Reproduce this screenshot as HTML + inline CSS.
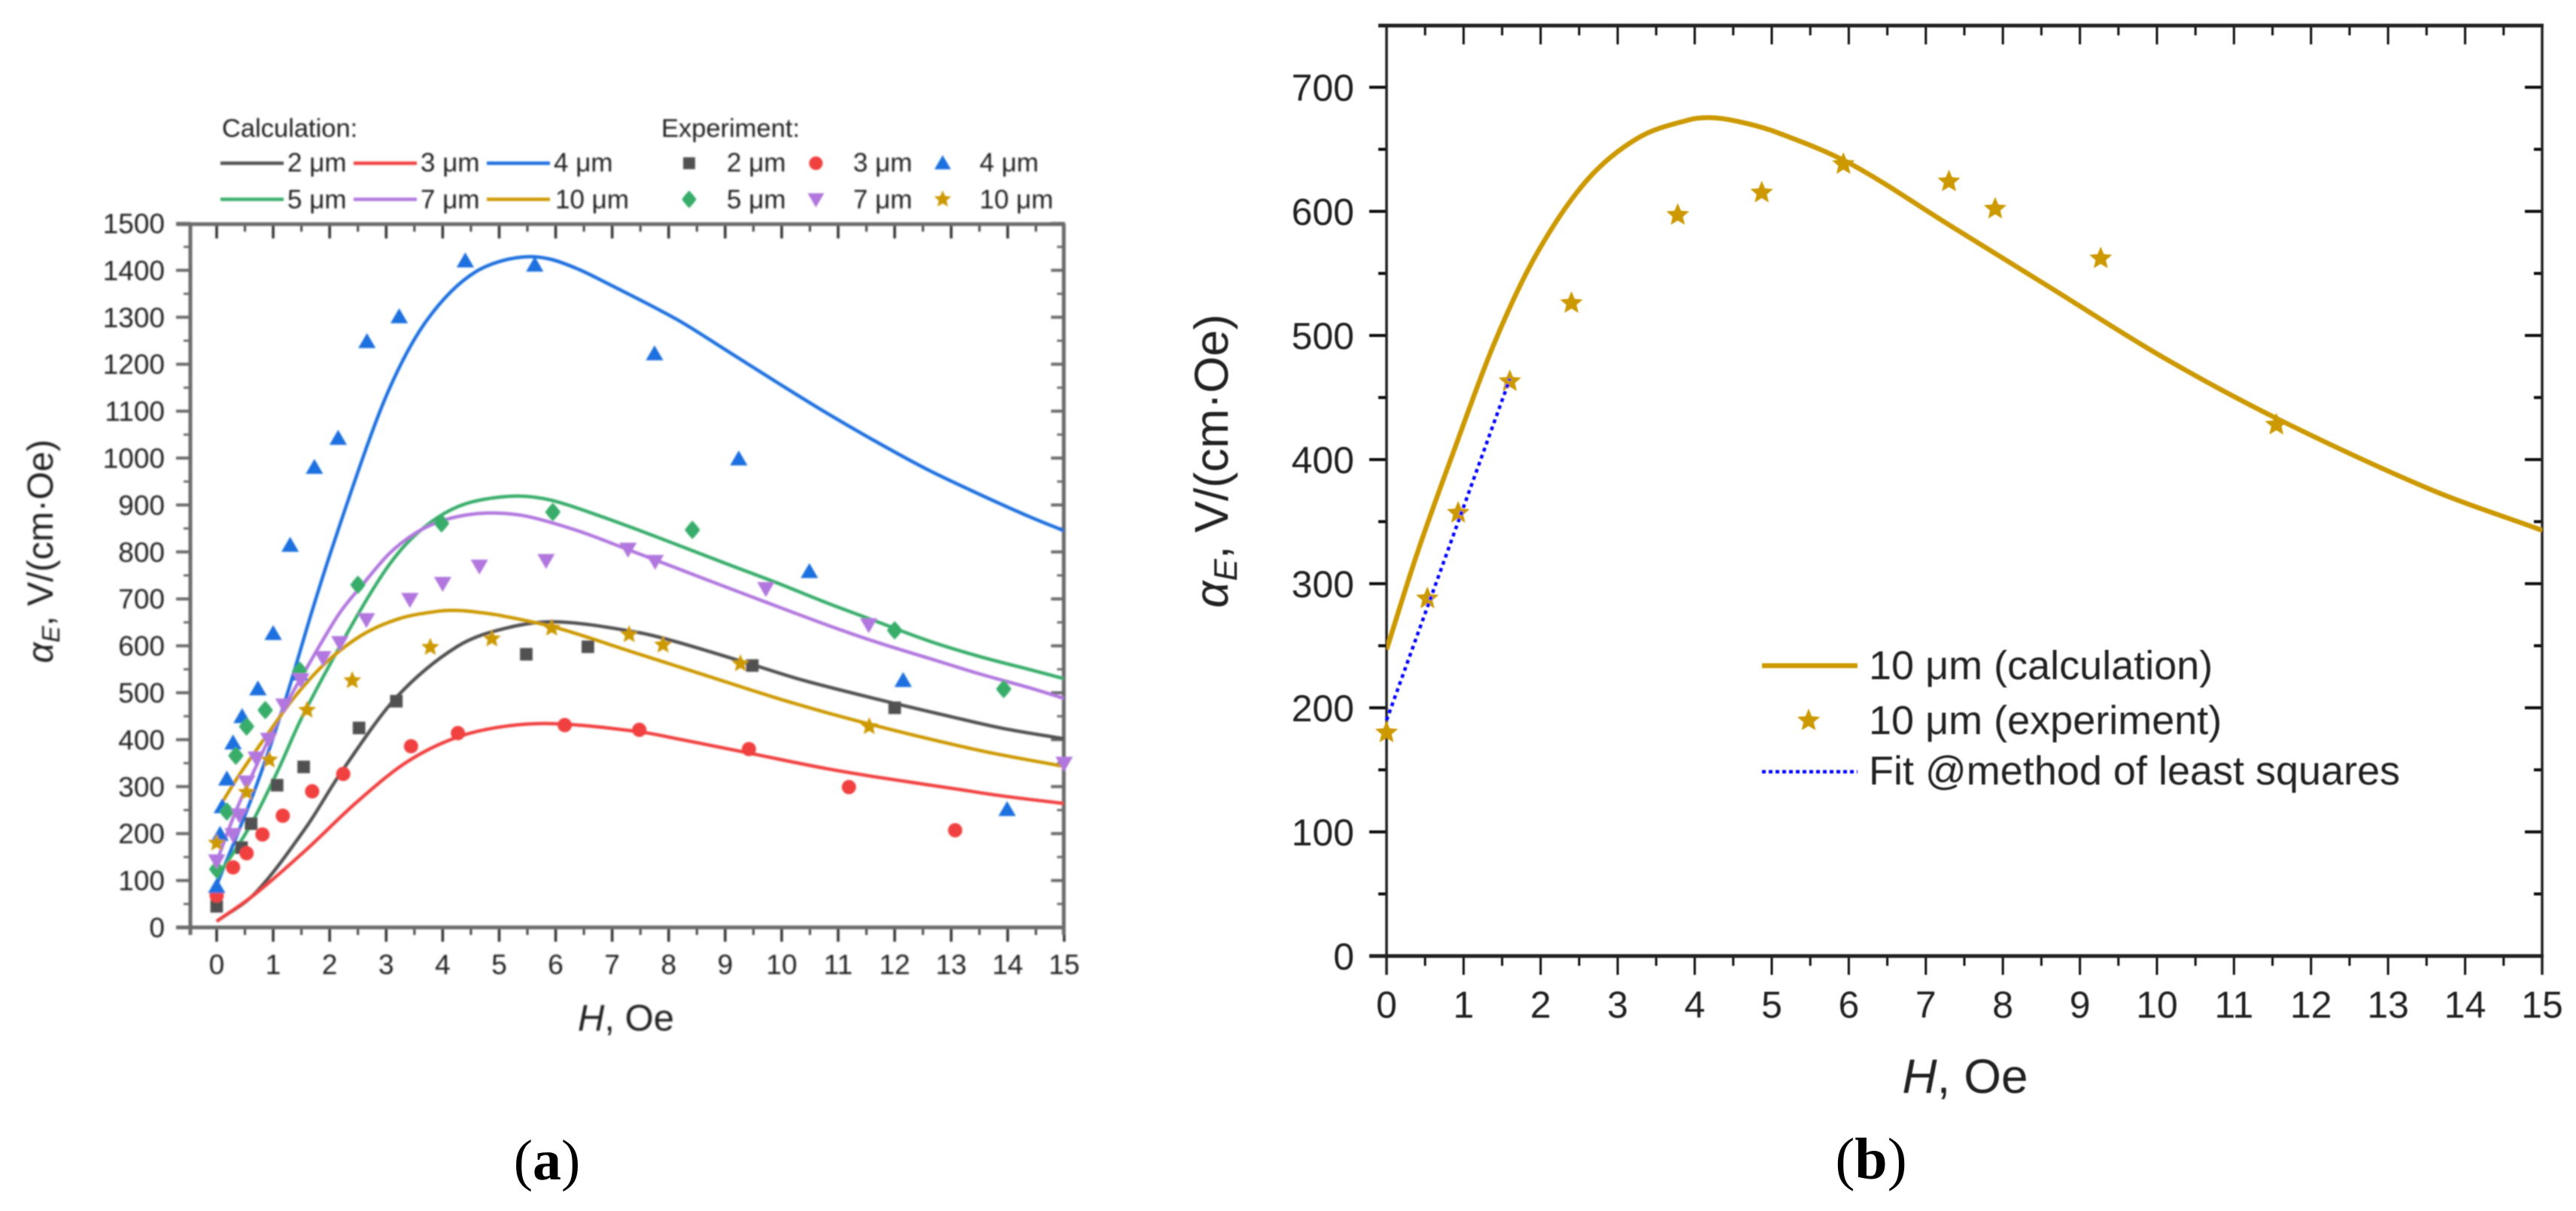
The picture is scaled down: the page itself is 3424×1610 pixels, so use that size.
<!DOCTYPE html>
<html lang="en">
<head>
<meta charset="utf-8">
<title>Magnetoelectric coefficient charts</title>
<style>
html,body{margin:0;padding:0;background:#fff;width:3424px;height:1610px;overflow:hidden}
svg{display:block}
text{font-family:"Liberation Sans",sans-serif;fill:#222}
.serif{font-family:"Liberation Serif",serif;fill:#000}
</style>
</head>
<body>
<svg id="figure" xmlns="http://www.w3.org/2000/svg" width="3424" height="1610" viewBox="0 0 3424 1610">
<defs>
<filter id="soft" x="-5%" y="-5%" width="110%" height="110%"><feGaussianBlur stdDeviation="1.1"/></filter>
<filter id="softer" x="-5%" y="-5%" width="110%" height="110%"><feGaussianBlur stdDeviation="0.7"/></filter>
<clipPath id="clip-a"><rect x="253" y="298" width="1161" height="935"/></clipPath>
<clipPath id="clip-b"><rect x="1843" y="34" width="1536" height="1237"/></clipPath>
</defs>
<g id="panel-a" filter="url(#soft)">
  <text x="295" y="182" font-size="34.5">Calculation:</text>
  <text x="879" y="182" font-size="34.5">Experiment:</text>
  <text transform="translate(70,733) rotate(-90)" text-anchor="middle" font-size="48"><tspan font-style="italic">α</tspan><tspan font-style="italic" font-size="33" dy="9">E</tspan><tspan dy="-9">,  V/(cm·Oe)</tspan></text>
  <text x="832" y="1370" text-anchor="middle" font-size="49"><tspan font-style="italic">H</tspan>, Oe</text>
</g>
<g id="panel-b" filter="url(#softer)">
  <text transform="translate(1632,613) rotate(-90)" text-anchor="middle" font-size="63"><tspan font-style="italic">α</tspan><tspan font-style="italic" font-size="44" dy="12">E</tspan><tspan dy="-12">,  V/(cm·Oe)</tspan></text>
  <text x="2612" y="1453" text-anchor="middle" font-size="64"><tspan font-style="italic">H</tspan>, Oe</text>
  <text x="2484" y="903" font-size="54">10 μm (calculation)</text>
  <text x="2484" y="976" font-size="54">10 μm (experiment)</text>
  <text x="2484" y="1043" font-size="54">Fit @method of least squares</text>
</g>
<text class="serif" x="727" y="1568" text-anchor="middle" font-size="76">(<tspan font-weight="bold" class="serif">a</tspan>)</text>
<text class="serif" x="2487" y="1567" text-anchor="middle" font-size="78">(<tspan font-weight="bold" class="serif">b</tspan>)</text>
</svg>
<script>
// ---- shared ticks ----
const hTicks = [0,1,2,3,4,5,6,7,8,9,10,11,12,13,14,15];
const aYTicks = [0,100,200,300,400,500,600,700,800,900,1000,1100,1200,1300,1400,1500];
const bYTicks = [0,100,200,300,400,500,600,700];

// ---- calculated curves ----
const calc2H = [0,0.69,1.58,2.2,3.18,4.25,5.13,6.04,7.48,8.15,9.48,10.37,11.7,13.03,13.92,15];
const calc2V = [13,74,213,330,490,598,638,651,628,608,560,527,486,448,424,402];
const calc3H = [0,0.69,1.58,2.47,3.36,4.25,5.13,6.02,7.48,8.15,9.48,10.81,11.7,13.03,13.92,15];
const calc3V = [13,72,165,266,352,405,429,434,417,402,370,338,320,296,280,264];
const calc4H = [0,0.69,1.22,1.67,2.02,2.65,3,3.36,3.71,4.15,4.6,5.04,5.53,5.93,6.37,6.82,8.15,9.04,9.92,10.81,11.7,12.59,13.48,14.37,15];
const calc4V = [90,298,486,667,800,1022,1132,1223,1292,1355,1398,1420,1429,1423,1404,1378,1295,1228,1161,1095,1033,975,924,876,845];
const calc5H = [0,0.6,1.09,1.49,2.2,2.82,3.27,3.71,4.15,4.6,5.31,5.93,6.82,7.7,9.04,9.92,10.81,11.7,12.59,13.48,14.37,15];
const calc5V = [105,218,336,443,603,731,806,856,890,909,919,910,875,836,774,734,691,651,611,578,550,530];
const calc7H = [0,0.33,0.69,1.13,1.58,2.16,2.6,3.05,3.49,3.93,4.38,4.87,5.49,6.37,7.26,8.15,9.04,9.92,10.81,11.7,12.59,13.48,14.37,15];
const calc7V = [140,245,341,453,550,667,733,796,838,864,878,883,876,846,806,765,724,684,644,607,574,541,511,488];
const calc10H = [0,0.4,0.85,1.4,1.95,2.6,3.26,3.91,4.2,4.56,5.05,6.03,7.33,8.63,10.09,11.56,13.51,15];
const calc10V = [247,325,403,494,566,625,659,673.5,675.5,672.5,664,638,588,538,482,433,377,343];

// ---- experimental points ----
const exp2H = [0,0.44,0.61,1.07,1.54,2.52,3.18,5.48,6.57,9.48,12];
const exp2V = [45,170,221,303,342,425,482,582,598,558,468];
const exp3H = [0,0.29,0.53,0.81,1.17,1.69,2.24,3.44,4.27,6.16,7.48,9.42,11.19,13.07];
const exp3V = [68,128,158,198,238,290,327,386,414,431,421,380,299,207];
const exp4H = [0,0.06,0.1,0.18,0.29,0.45,0.73,1,1.3,1.47,1.73,2.15,2.66,3.23,4.4,5.63,7.75,9.24,10.49,12.15,13.99];
const exp4V = [87,198,257,316,393,449,508,626,814,540,980,1042,1248,1301,1420,1411,1222,998,758,526,251];
const exp5H = [0,0.18,0.34,0.53,0.86,1.47,2.5,3.98,5.95,8.42,12,13.93];
const exp5V = [124,247,366,428,463,547,730,861,885,847,633,508];
const exp7H = [0,0.29,0.4,0.53,0.7,0.92,1.19,1.49,1.88,2.18,2.65,3.42,4,4.65,5.83,7.28,7.76,9.72,11.54,15];
const exp7V = [142,198,240,310,361,401,474,528,575,607,656,699,733,770,782,806,780,722,645,350];
const exp10H = [0,0.53,0.93,1.6,2.4,3.78,4.87,5.93,7.3,7.9,9.27,11.55];
const exp10V = [180,288,357,463,526,597,615,638,624,602,562,428];

// ---- least squares fit (panel b) ----
const fitH = [0,1.6];
const fitV = [190,465];

// ---- legend labels ----
const legendLabels = ['2 μm','3 μm','4 μm','5 μm','7 μm','10 μm'];
const seriesColors = ['#515151','#f14040','#1a6fdf','#37ad6b','#b177de','#cc9900'];
const seriesNames = ['2um','3um','4um','5um','7um','10um'];
const seriesShapes = ['square','circle','up','diamond','down','star'];

// ---- axis functions ----
function xA(h){ return 288 + 75.1*h; }
function yA(v){ return 1233 - 0.624*v; }
function xB(h){ return 1843 + 102.4*h; }
function yB(v){ return 1271 - 1.65*v; }

const NS = 'http://www.w3.org/2000/svg';
const panelA = document.getElementById('panel-a');
const panelB = document.getElementById('panel-b');

function mk(tag, attrs, parent){
  const e = document.createElementNS(NS, tag);
  for (const k in attrs) e.setAttribute(k, attrs[k]);
  parent.appendChild(e);
  return e;
}
// Hermite spline through the knots, with tangents from neighbouring knots.
function smooth(hs, vs, fx, fy){
  const p = hs.map((h,i)=>[fx(h), fy(vs[i])]);
  const n = p.length;
  const m = p.map((q,i)=>{
    const a = p[Math.max(i-1,0)], b = p[Math.min(i+1,n-1)];
    return (b[1]-a[1])/(b[0]-a[0]);
  });
  let d = 'M' + p[0][0].toFixed(1) + ' ' + p[0][1].toFixed(1);
  for (let i=0;i<n-1;i++){
    const dx = (p[i+1][0]-p[i][0])/3;
    d += 'C' + (p[i][0]+dx).toFixed(1)+' '+(p[i][1]+m[i]*dx).toFixed(1)+' '+
         (p[i+1][0]-dx).toFixed(1)+' '+(p[i+1][1]-m[i+1]*dx).toFixed(1)+' '+
         p[i+1][0].toFixed(1)+' '+p[i+1][1].toFixed(1);
  }
  return d;
}
function markerShape(shape, x, y, s, color, parent){
  let e;
  if (shape === 'square'){
    e = mk('rect',{x:x-s*0.88,y:y-s*0.88,width:s*1.76,height:s*1.76,fill:color},parent);
  } else if (shape === 'circle'){
    e = mk('circle',{cx:x,cy:y,r:s,fill:color},parent);
  } else if (shape === 'up'){
    e = mk('polygon',{points:(x)+','+(y-s*1.2)+' '+(x+s*1.22)+','+(y+s*0.9)+' '+(x-s*1.22)+','+(y+s*0.9),fill:color},parent);
  } else if (shape === 'down'){
    e = mk('polygon',{points:(x)+','+(y+s*1.2)+' '+(x+s*1.22)+','+(y-s*0.9)+' '+(x-s*1.22)+','+(y-s*0.9),fill:color},parent);
  } else if (shape === 'diamond'){
    const o = [[0,-1.3],[0.62,-0.62],[1.08,0],[0.62,0.62],[0,1.3],[-0.62,0.62],[-1.08,0],[-0.62,-0.62]];
    e = mk('polygon',{points:o.map(q=>(x+q[0]*s).toFixed(1)+','+(y+q[1]*s).toFixed(1)).join(' '),fill:color},parent);
  } else {
    const pts = [];
    for (let i=0;i<10;i++){
      const r = (i%2===0) ? s*1.33 : s*0.6;
      const t = -Math.PI/2 + i*Math.PI/5;
      pts.push((x+r*Math.cos(t)).toFixed(1)+','+(y+r*Math.sin(t)).toFixed(1));
    }
    e = mk('polygon',{points:pts.join(' '),fill:color},parent);
  }
  return e;
}

// ---- panel a: axes ----
const axisGreyA = '#6a6a6a';
for (const v of aYTicks){
  const t = mk('text',{x:219,y:yA(v)+13,'text-anchor':'end','font-size':37},panelA);
  
  
  t.textContent = v;
  const l = mk('line',{x1:234,x2:253,y1:yA(v),y2:yA(v),stroke:axisGreyA,'stroke-width':4},panelA);
  
  
  const r = mk('line',{x1:1397,x2:1414,y1:yA(v),y2:yA(v),stroke:axisGreyA,'stroke-width':4},panelA);
  
  
  if (v < 1500){
    const ml = mk('line',{x1:244,x2:253,y1:yA(v+50),y2:yA(v+50),stroke:axisGreyA,'stroke-width':3},panelA);
    
    
    const mr = mk('line',{x1:1405,x2:1414,y1:yA(v+50),y2:yA(v+50),stroke:axisGreyA,'stroke-width':3},panelA);
    
    
  }
}
for (const h of hTicks){
  const t = mk('text',{x:xA(h),y:1295,'text-anchor':'middle','font-size':37},panelA);
  
  
  t.textContent = h;
  const b = mk('line',{x1:xA(h),x2:xA(h),y1:1233,y2:1252,stroke:'#333','stroke-width':3.5},panelA);
  
  
  const u = mk('line',{x1:xA(h),x2:xA(h),y1:298,y2:317,stroke:'#333','stroke-width':3.5},panelA);
  
  
  if (h < 15){
    const mb = mk('line',{x1:xA(h+0.5),x2:xA(h+0.5),y1:1233,y2:1243,stroke:'#444','stroke-width':3},panelA);
    
    
    const mu = mk('line',{x1:xA(h+0.5),x2:xA(h+0.5),y1:298,y2:308,stroke:'#444','stroke-width':3},panelA);
    
    
  }
}
const frameA = mk('path',{d:'M253 1243V298M234 298H1416M234 1233H1416M1414 298V1243',stroke:axisGreyA,'stroke-width':5,fill:'none'},panelA);



// ---- panel a: curves ----
const curvesH = [calc2H,calc3H,calc4H,calc5H,calc7H,calc10H];
const curvesV = [calc2V,calc3V,calc4V,calc5V,calc7V,calc10V];
const pointsH = [exp2H,exp3H,exp4H,exp5H,exp7H,exp10H];
const pointsV = [exp2V,exp3V,exp4V,exp5V,exp7V,exp10V];
const clipA = mk('g',{'clip-path':'url(#clip-a)'},panelA);


curvesH.forEach((hs,i)=>{
  const c = mk('path',{d:smooth(hs,curvesV[i],xA,yA),fill:'none',stroke:seriesColors[i],'stroke-width':4.5,'stroke-linejoin':'round'},clipA);
  
  
});
pointsH.forEach((hs,i)=>{
  hs.forEach((h,j)=>{
    const m = markerShape(seriesShapes[i],xA(h),yA(pointsV[i][j]),9.5,seriesColors[i],panelA);
    
    
  });
});

// ---- panel a: legend ----
legendLabels.forEach((lab,i)=>{
  const col = i%3, row = Math.floor(i/3);
  const ly = row===0 ? 217 : 265;
  const by = row===0 ? 228 : 277;
  const lx = 293 + col*177;
  const sw = mk('line',{x1:lx,x2:lx+84,y1:ly,y2:ly,stroke:seriesColors[i],'stroke-width':4.5},panelA);
  
  
  const t = mk('text',{x:lx+89+(i===5?2:0),y:by,'font-size':35},panelA);
  
  
  t.textContent = lab;
  const mx = 916 + col*168.5;
  const mm = markerShape(seriesShapes[i],mx,ly,9,seriesColors[i],panelA);
  
  
  const t2 = mk('text',{x:966+col*168,y:by,'font-size':35},panelA);
  
  
  t2.textContent = lab;
});

// ---- panel b: axes ----
for (const v of bYTicks){
  const t = mk('text',{x:1800,y:yB(v)+18,'text-anchor':'end','font-size':50},panelB);
  
  
  t.textContent = v;
  const l = mk('line',{x1:1820,x2:1843,y1:yB(v),y2:yB(v),stroke:'#111','stroke-width':4},panelB);
  
  
  const r = mk('line',{x1:3356,x2:3379,y1:yB(v),y2:yB(v),stroke:'#111','stroke-width':4},panelB);
  
  
  const ml = mk('line',{x1:1832,x2:1843,y1:yB(v+50),y2:yB(v+50),stroke:'#111','stroke-width':4},panelB);
  
  
  const mr = mk('line',{x1:3368,x2:3379,y1:yB(v+50),y2:yB(v+50),stroke:'#111','stroke-width':4},panelB);
  
  
}
for (const h of hTicks){
  const t = mk('text',{x:xB(h),y:1353,'text-anchor':'middle','font-size':50},panelB);
  
  
  t.textContent = h;
  const b = mk('line',{x1:xB(h),x2:xB(h),y1:1271,y2:1296,stroke:'#111','stroke-width':3},panelB);
  
  
  const u = mk('line',{x1:xB(h),x2:xB(h),y1:34,y2:59,stroke:'#111','stroke-width':3},panelB);
  
  
  if (h < 15){
    const mb = mk('line',{x1:xB(h+0.5),x2:xB(h+0.5),y1:1271,y2:1284,stroke:'#111','stroke-width':3},panelB);
    
    
    const mu = mk('line',{x1:xB(h+0.5),x2:xB(h+0.5),y1:34,y2:47,stroke:'#111','stroke-width':3},panelB);
    
    
  }
}
const frameB = mk('path',{d:'M1843 1296V34M3379 34V1296',stroke:'#222','stroke-width':3.5,fill:'none'},panelB);


const frameB2 = mk('path',{d:'M1832 34H3381M1820 1271H3381',stroke:'#222','stroke-width':5,fill:'none'},panelB);



// ---- panel b: series ----
const clipB = mk('g',{'clip-path':'url(#clip-b)'},panelB);


const curveB = mk('path',{d:smooth(calc10H,calc10V,xB,yB),fill:'none',stroke:'#cc9900','stroke-width':6.5,'stroke-linejoin':'round'},clipB);


exp10H.forEach((h,j)=>{
  const s = markerShape('star',xB(h),yB(exp10V[j]),12,'#cc9900',panelB);
  
  
});
const fitLine = mk('line',{x1:xB(fitH[0]),y1:yB(fitV[0]),x2:xB(fitH[1]),y2:yB(fitV[1]),stroke:'#0000ff','stroke-width':4.5,'stroke-dasharray':'5 5'},panelB);



// ---- panel b: legend ----
const lgLine = mk('line',{x1:2342,x2:2469,y1:885,y2:885,stroke:'#cc9900','stroke-width':6.5},panelB);


const lgStar = markerShape('star',2404,958,12,'#cc9900',panelB);


const lgFit = mk('line',{x1:2342,x2:2469,y1:1026,y2:1026,stroke:'#0000ff','stroke-width':4.5,'stroke-dasharray':'5 4'},panelB);


</script>
</body>
</html>
